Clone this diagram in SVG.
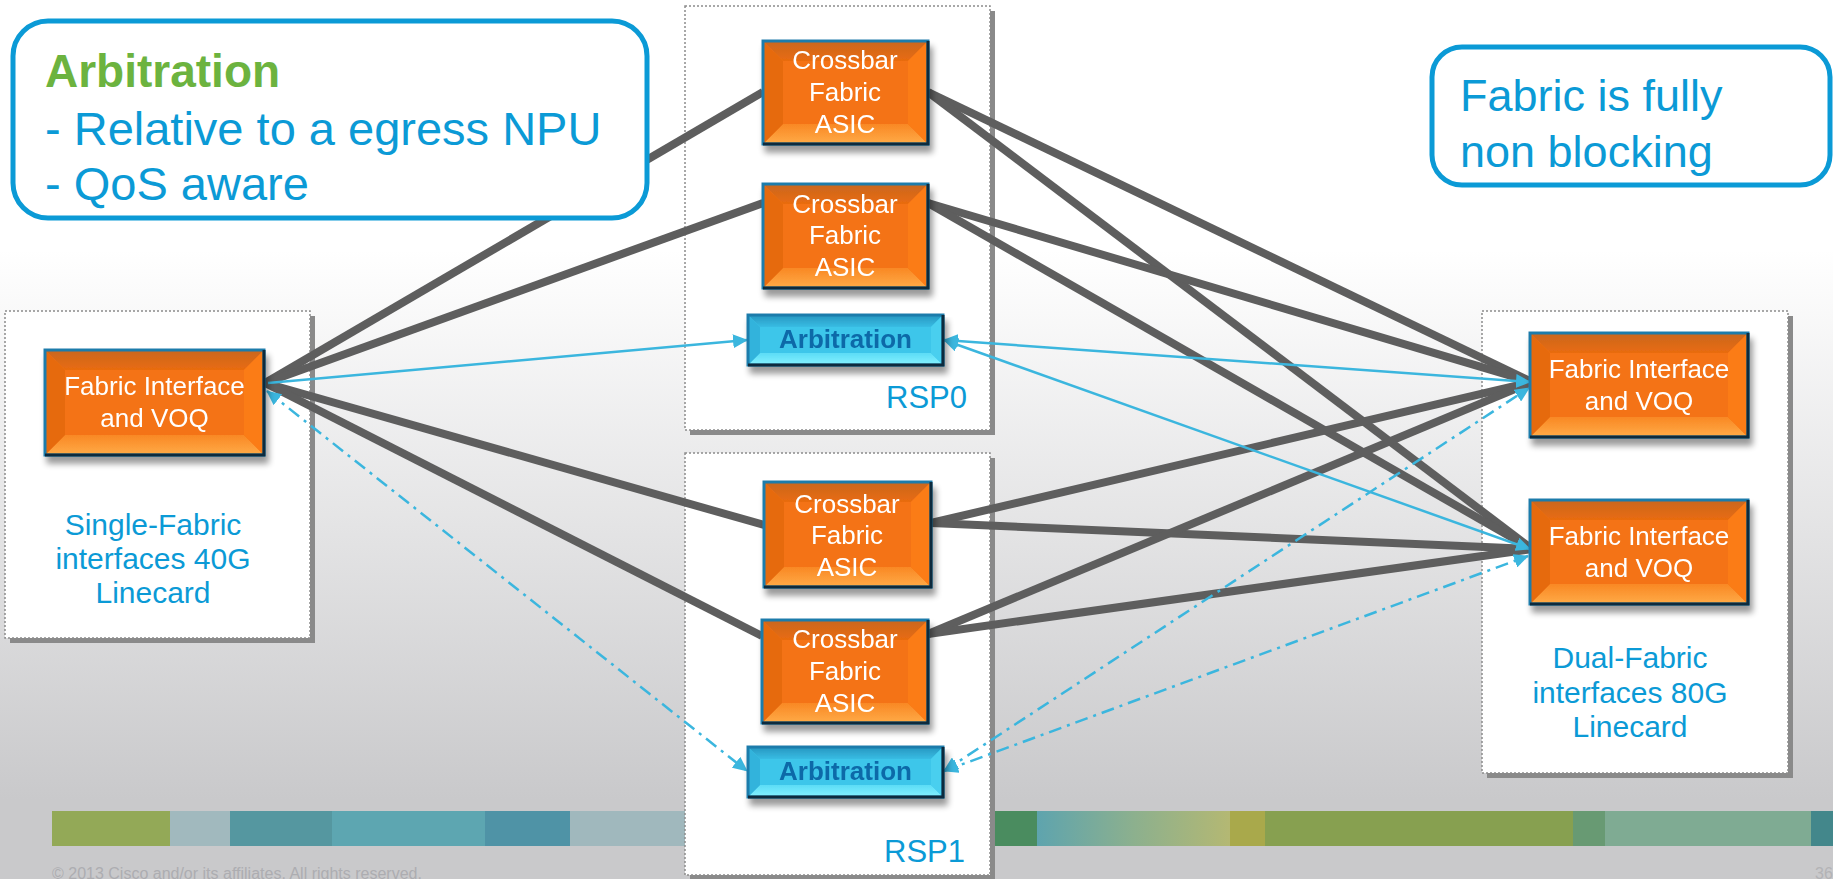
<svg xmlns="http://www.w3.org/2000/svg" width="1833" height="879" viewBox="0 0 1833 879">
<defs>
  <linearGradient id="bg" x1="0" y1="250" x2="0" y2="800" gradientUnits="userSpaceOnUse">
    <stop offset="0" stop-color="#ffffff"/>
    <stop offset="1" stop-color="#c9c9cb"/>
  </linearGradient>
  <linearGradient id="oTop" x1="0" y1="0" x2="0" y2="1">
    <stop offset="0" stop-color="#c9661f"/>
    <stop offset="1" stop-color="#e96c10"/>
  </linearGradient>
  <linearGradient id="oBot" x1="0" y1="0" x2="0" y2="1">
    <stop offset="0" stop-color="#f98824"/>
    <stop offset="1" stop-color="#ffab47"/>
  </linearGradient>
  <linearGradient id="cTop" x1="0" y1="0" x2="0" y2="1">
    <stop offset="0" stop-color="#2696c0"/>
    <stop offset="1" stop-color="#38bce3"/>
  </linearGradient>
  <linearGradient id="cBot" x1="0" y1="0" x2="0" y2="1">
    <stop offset="0" stop-color="#5cdcf6"/>
    <stop offset="1" stop-color="#84f2ff"/>
  </linearGradient>
  <linearGradient id="barFade" x1="0" y1="0" x2="1" y2="0">
    <stop offset="0" stop-color="#5ea4ae"/>
    <stop offset="0.5" stop-color="#8cb08e"/>
    <stop offset="1" stop-color="#b4b873"/>
  </linearGradient>
  <filter id="sh" x="-10%" y="-10%" width="130%" height="150%">
    <feGaussianBlur in="SourceAlpha" stdDeviation="3"/>
    <feOffset dx="3" dy="7"/>
    <feComponentTransfer><feFuncA type="linear" slope="0.4"/></feComponentTransfer>
    <feMerge><feMergeNode/><feMergeNode in="SourceGraphic"/></feMerge>
  </filter>
  <marker id="ah" viewBox="0 0 15 14" refX="14" refY="7" markerWidth="15" markerHeight="14" markerUnits="userSpaceOnUse" orient="auto-start-reverse">
    <path d="M0,0 L15,7 L0,14 z" fill="#3bb6de"/>
  </marker>
  <style>
    .txt { font-family: "Liberation Sans", Arial, sans-serif; }
    .blue { fill: #0b9ad6; }
    .wt { fill: #ffffff; font-size: 26px; text-anchor: middle; }
    .arbt { fill: #0b69a8; font-size: 26px; font-weight: bold; text-anchor: middle; }
    .lc { font-size: 30px; text-anchor: middle; }
    .rsp { font-size: 31px; text-anchor: end; }
    .box { fill: #ffffff; stroke: #8c8c8c; stroke-width: 1.5; stroke-dasharray: 2 2; }
    .boxsh { fill: #8a8a8a; }
    .omid { fill: #f47314; }
    .otop { fill: url(#oTop); }
    .obot { fill: url(#oBot); }
    .olft { fill: #e66a0f; }
    .orgt { fill: #fb7b15; }
    .cmid { fill: #3ec6ea; }
    .ctop { fill: url(#cTop); }
    .cbot { fill: url(#cBot); }
    .clft { fill: #32b3dc; }
    .crgt { fill: #48cfef; }
    .edge { fill: none; stroke: #1f7cab; stroke-width: 3; }
    .edge2 { fill: none; stroke: #0c2c3e; stroke-width: 3; }
    .fat { fill: none; stroke: #5e5e5e; stroke-width: 8; }
    .arb { fill: none; stroke: #3bb6de; stroke-width: 2.5; }
    .dd { stroke-dasharray: 13 6 3 6; }
    .call { fill: #ffffff; stroke: #0b9ad6; stroke-width: 5; }
  </style>
</defs>

<!-- backdrop -->
<rect x="0" y="0" width="1833" height="879" fill="url(#bg)"/>

<!-- footer colour band -->
<g id="footer-band">
  <rect x="52" y="811" width="118" height="35" fill="#93a957"/>
  <rect x="170" y="811" width="60" height="35" fill="#a1b9be"/>
  <rect x="230" y="811" width="102" height="35" fill="#5597a0"/>
  <rect x="332" y="811" width="153" height="35" fill="#5da6b1"/>
  <rect x="485" y="811" width="85" height="35" fill="#4f93a6"/>
  <rect x="570" y="811" width="422" height="35" fill="#a0b8bd"/>
  <rect x="992" y="811" width="45" height="35" fill="#4a8c5f"/>
  <rect x="1037" y="811" width="193" height="35" fill="url(#barFade)"/>
  <rect x="1230" y="811" width="35" height="35" fill="#a9a94b"/>
  <rect x="1265" y="811" width="308" height="35" fill="#87a050"/>
  <rect x="1573" y="811" width="32" height="35" fill="#689a73"/>
  <rect x="1605" y="811" width="206" height="35" fill="#7fab93"/>
  <rect x="1811" y="811" width="22" height="35" fill="#43878b"/>
</g>
<text class="txt" x="52" y="879" font-size="16" fill="#adadb1">© 2013 Cisco and/or its affiliates. All rights reserved.</text>
<text class="txt" x="1815" y="879" font-size="16" fill="#b3b3b6">36</text>

<!-- containers -->
<g id="linecard-single">
  <rect class="boxsh" x="10" y="316" width="305" height="327"/>
  <rect class="box" x="5" y="311" width="305" height="327"/>
  <text class="txt blue lc" x="153" y="535">Single-Fabric</text>
  <text class="txt blue lc" x="153" y="569">interfaces 40G</text>
  <text class="txt blue lc" x="153" y="603">Linecard</text>
</g>
<g id="linecard-dual">
  <rect class="boxsh" x="1487" y="316" width="306" height="462"/>
  <rect class="box" x="1482" y="311" width="306" height="462"/>
  <text class="txt blue lc" x="1630" y="668">Dual-Fabric</text>
  <text class="txt blue lc" x="1630" y="703">interfaces 80G</text>
  <text class="txt blue lc" x="1630" y="737">Linecard</text>
</g>
<g id="rsp0">
  <rect class="boxsh" x="690" y="11" width="305" height="424"/>
  <rect class="box" x="685" y="6" width="305" height="424"/>
  <text class="txt blue rsp" x="967" y="408">RSP0</text>
</g>
<g id="rsp1">
  <rect class="boxsh" x="690" y="458" width="305" height="422"/>
  <rect class="box" x="685" y="453" width="305" height="422"/>
  <text class="txt blue rsp" x="965" y="862">RSP1</text>
</g>

<!-- connectors -->
<g id="connectors">
  <g id="fabric-links">
    <line class="fat" x1="265" y1="383" x2="763" y2="92"/>
    <line class="fat" x1="265" y1="383" x2="763" y2="203"/>
    <line class="fat" x1="265" y1="383" x2="764" y2="525"/>
    <line class="fat" x1="265" y1="383" x2="762" y2="636"/>
    <line class="fat" x1="928" y1="92" x2="1532" y2="382"/>
    <line class="fat" x1="928" y1="92" x2="1532" y2="549"/>
    <line class="fat" x1="928" y1="203" x2="1532" y2="382"/>
    <line class="fat" x1="928" y1="203" x2="1532" y2="549"/>
    <line class="fat" x1="931" y1="523" x2="1532" y2="382"/>
    <line class="fat" x1="931" y1="523" x2="1532" y2="549"/>
    <line class="fat" x1="928" y1="634" x2="1532" y2="382"/>
    <line class="fat" x1="928" y1="634" x2="1532" y2="549"/>
  </g>
  <g id="arbitration-links">
    <line class="arb" x1="268" y1="383" x2="747" y2="340" marker-end="url(#ah)"/>
    <line class="arb" x1="944" y1="340" x2="1530" y2="382" marker-start="url(#ah)" marker-end="url(#ah)"/>
    <line class="arb" x1="944" y1="340" x2="1530" y2="549" marker-start="url(#ah)" marker-end="url(#ah)"/>
    <line class="arb dd" x1="267" y1="391" x2="747" y2="771" marker-start="url(#ah)" marker-end="url(#ah)"/>
    <line class="arb dd" x1="944" y1="771" x2="1529" y2="388" marker-start="url(#ah)" marker-end="url(#ah)"/>
    <line class="arb dd" x1="944" y1="771" x2="1528" y2="556" marker-start="url(#ah)" marker-end="url(#ah)"/>
  </g>
</g>

<!-- crossbar fabric ASICs -->
<g id="xbar-rsp0-a" filter="url(#sh)">
  <rect class="omid" x="763" y="41" width="165" height="103"/>
  <polygon class="otop" points="763,41 928,41 908,61 783,61"/>
  <polygon class="obot" points="763,144 928,144 908,124 783,124"/>
  <polygon class="olft" points="763,41 783,61 783,124 763,144"/>
  <polygon class="orgt" points="928,41 908,61 908,124 928,144"/>
  <rect class="edge" x="763" y="41" width="165" height="103"/>
  <polyline class="edge2" points="763,144 928,144 928,41"/>
  <text class="txt wt" x="845" y="69">Crossbar</text>
  <text class="txt wt" x="845" y="101">Fabric</text>
  <text class="txt wt" x="845" y="133">ASIC</text>
</g>
<g id="xbar-rsp0-b" filter="url(#sh)">
  <rect class="omid" x="763" y="184" width="165" height="104"/>
  <polygon class="otop" points="763,184 928,184 908,204 783,204"/>
  <polygon class="obot" points="763,288 928,288 908,268 783,268"/>
  <polygon class="olft" points="763,184 783,204 783,268 763,288"/>
  <polygon class="orgt" points="928,184 908,204 908,268 928,288"/>
  <rect class="edge" x="763" y="184" width="165" height="104"/>
  <polyline class="edge2" points="763,288 928,288 928,184"/>
  <text class="txt wt" x="845" y="213">Crossbar</text>
  <text class="txt wt" x="845" y="244">Fabric</text>
  <text class="txt wt" x="845" y="276">ASIC</text>
</g>
<g id="xbar-rsp1-a" filter="url(#sh)">
  <rect class="omid" x="764" y="482" width="167" height="105"/>
  <polygon class="otop" points="764,482 931,482 911,502 784,502"/>
  <polygon class="obot" points="764,587 931,587 911,567 784,567"/>
  <polygon class="olft" points="764,482 784,502 784,567 764,587"/>
  <polygon class="orgt" points="931,482 911,502 911,567 931,587"/>
  <rect class="edge" x="764" y="482" width="167" height="105"/>
  <polyline class="edge2" points="764,587 931,587 931,482"/>
  <text class="txt wt" x="847" y="513">Crossbar</text>
  <text class="txt wt" x="847" y="544">Fabric</text>
  <text class="txt wt" x="847" y="576">ASIC</text>
</g>
<g id="xbar-rsp1-b" filter="url(#sh)">
  <rect class="omid" x="762" y="620" width="166" height="103"/>
  <polygon class="otop" points="762,620 928,620 908,640 782,640"/>
  <polygon class="obot" points="762,723 928,723 908,703 782,703"/>
  <polygon class="olft" points="762,620 782,640 782,703 762,723"/>
  <polygon class="orgt" points="928,620 908,640 908,703 928,723"/>
  <rect class="edge" x="762" y="620" width="166" height="103"/>
  <polyline class="edge2" points="762,723 928,723 928,620"/>
  <text class="txt wt" x="845" y="648">Crossbar</text>
  <text class="txt wt" x="845" y="680">Fabric</text>
  <text class="txt wt" x="845" y="712">ASIC</text>
</g>

<!-- arbiters -->
<g id="arbiter-rsp0" filter="url(#sh)">
  <rect class="cmid" x="748" y="315" width="195" height="50"/>
  <polygon class="ctop" points="748,315 943,315 931,327 760,327"/>
  <polygon class="cbot" points="748,365 943,365 931,353 760,353"/>
  <polygon class="clft" points="748,315 760,327 760,353 748,365"/>
  <polygon class="crgt" points="943,315 931,327 931,353 943,365"/>
  <rect class="edge" x="748" y="315" width="195" height="50"/>
  <polyline class="edge2" points="748,365 943,365 943,315"/>
  <text class="txt arbt" x="845.5" y="348">Arbitration</text>
</g>
<g id="arbiter-rsp1" filter="url(#sh)">
  <rect class="cmid" x="748" y="747" width="195" height="50"/>
  <polygon class="ctop" points="748,747 943,747 931,759 760,759"/>
  <polygon class="cbot" points="748,797 943,797 931,785 760,785"/>
  <polygon class="clft" points="748,747 760,759 760,785 748,797"/>
  <polygon class="crgt" points="943,747 931,759 931,785 943,797"/>
  <rect class="edge" x="748" y="747" width="195" height="50"/>
  <polyline class="edge2" points="748,797 943,797 943,747"/>
  <text class="txt arbt" x="845.5" y="780">Arbitration</text>
</g>

<!-- fabric interfaces -->
<g id="fi-single" filter="url(#sh)">
  <rect class="omid" x="45" y="350" width="219" height="105"/>
  <polygon class="otop" points="45,350 264,350 244,370 65,370"/>
  <polygon class="obot" points="45,455 264,455 244,435 65,435"/>
  <polygon class="olft" points="45,350 65,370 65,435 45,455"/>
  <polygon class="orgt" points="264,350 244,370 244,435 264,455"/>
  <rect class="edge" x="45" y="350" width="219" height="105"/>
  <polyline class="edge2" points="45,455 264,455 264,350"/>
  <text class="txt wt" x="154.5" y="395">Fabric Interface</text>
  <text class="txt wt" x="154.5" y="427">and VOQ</text>
</g>
<g id="fi-dual-a" filter="url(#sh)">
  <rect class="omid" x="1530" y="333" width="218" height="104"/>
  <polygon class="otop" points="1530,333 1748,333 1728,353 1550,353"/>
  <polygon class="obot" points="1530,437 1748,437 1728,417 1550,417"/>
  <polygon class="olft" points="1530,333 1550,353 1550,417 1530,437"/>
  <polygon class="orgt" points="1748,333 1728,353 1728,417 1748,437"/>
  <rect class="edge" x="1530" y="333" width="218" height="104"/>
  <polyline class="edge2" points="1530,437 1748,437 1748,333"/>
  <text class="txt wt" x="1639" y="378">Fabric Interface</text>
  <text class="txt wt" x="1639" y="410">and VOQ</text>
</g>
<g id="fi-dual-b" filter="url(#sh)">
  <rect class="omid" x="1530" y="500" width="218" height="104"/>
  <polygon class="otop" points="1530,500 1748,500 1728,520 1550,520"/>
  <polygon class="obot" points="1530,604 1748,604 1728,584 1550,584"/>
  <polygon class="olft" points="1530,500 1550,520 1550,584 1530,604"/>
  <polygon class="orgt" points="1748,500 1728,520 1728,584 1748,604"/>
  <rect class="edge" x="1530" y="500" width="218" height="104"/>
  <polyline class="edge2" points="1530,604 1748,604 1748,500"/>
  <text class="txt wt" x="1639" y="545">Fabric Interface</text>
  <text class="txt wt" x="1639" y="577">and VOQ</text>
</g>

<!-- callouts -->
<g id="note-arbitration">
  <rect class="call" x="13" y="21" width="634" height="197" rx="35" ry="35"/>
  <text class="txt" x="45" y="87" font-size="46" font-weight="bold" fill="#6cb33f">Arbitration</text>
  <text class="txt blue" x="45" y="145" font-size="47">- Relative to a egress NPU</text>
  <text class="txt blue" x="45" y="200" font-size="47">- QoS aware</text>
</g>
<g id="note-nonblocking">
  <rect class="call" x="1432" y="47" width="398" height="138" rx="30" ry="30"/>
  <text class="txt blue" x="1460" y="111" font-size="45">Fabric is fully</text>
  <text class="txt blue" x="1460" y="167" font-size="45">non blocking</text>
</g>
</svg>
